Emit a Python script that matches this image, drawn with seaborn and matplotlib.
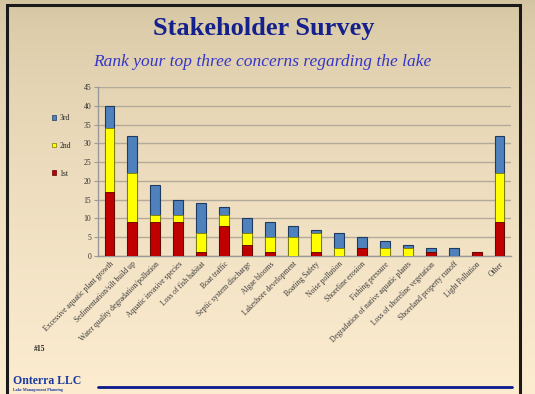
import numpy as np
import pandas as pd
import matplotlib
matplotlib.use("Agg")
import matplotlib.pyplot as plt
import seaborn as sns
from matplotlib.patches import Patch, Rectangle

categories = ["Excessive aquatic plant growth", "Sedimentation/silt build up",
              "Water quality degradation/pollution", "Aquatic invasive species",
              "Loss of fish habitat", "Boat traffic", "Septic system discharge",
              "Algae blooms", "Lakeshore development", "Boating Safety",
              "Noise pollution", "Shoreline erosion", "Fishing pressure",
              "Degradation of native aquatic plants", "Loss of shoreline vegetation",
              "Shoreland property runoff", "Light Pollution", "Other"]
first = [17, 9, 9, 9, 1, 8, 3, 1, 0, 1, 0, 2, 0, 0, 1, 0, 1, 9]
second = [17, 13, 2, 2, 5, 3, 3, 4, 5, 5, 2, 0, 2, 2, 0, 0, 0, 13]
third = [6, 10, 8, 4, 8, 2, 4, 4, 3, 1, 4, 3, 2, 1, 1, 2, 0, 10]
yticks = [0, 5, 10, 15, 20, 25, 30, 35, 40, 45]

df = pd.DataFrame({"cat": categories, "first": first, "second": second, "third": third})
df["c1"] = df["first"]
df["c2"] = df["first"] + df["second"]
df["c3"] = df["c2"] + df["third"]

sns.set_theme(style="white")
plt.rcParams["font.family"] = ["Liberation Serif", "DejaVu Serif"]

fig = plt.figure(figsize=(5.35, 3.94), dpi=100)

# background gradient
bg = fig.add_axes([0, 0, 1, 1], zorder=-10)
grad = (np.linspace(0, 1, 256) ** 0.6)[:, None]
top = np.array([0.83, 0.77, 0.63])
bot = np.array([0.99, 0.925, 0.815])
img = top[None, None, :] * (1 - grad[:, :, None]) + bot[None, None, :] * grad[:, :, None]
bg.imshow(img, aspect="auto", extent=[0, 1, 0, 1], origin="upper")
bg.set_xlim(0, 1); bg.set_ylim(0, 1)
bg.axis("off")
bg.add_patch(Rectangle((7 / 535, -0.01), (520 - 7) / 535, 1 - 5 / 394 + 0.01,
                       fill=False, edgecolor="#1a1a1a", linewidth=2.2))
bg.plot([98 / 535, 512 / 535], [1 - 387 / 394] * 2, color="#0a1a8c", linewidth=2)

ax = fig.add_axes([98 / 535, 1 - 256 / 394, (511 - 98) / 535, (256 - 87) / 394])
ax.set_facecolor("none")

blue = "#4f81bd"; yellow = "#ffff00"; red = "#c00000"
w = 0.43
sns.barplot(data=df, x="cat", y="c3", color=blue, saturation=1, width=w,
            edgecolor="#1f3a60", linewidth=0.8, ax=ax, zorder=3)
sns.barplot(data=df, x="cat", y="c2", color=yellow, saturation=1, width=w,
            edgecolor="#7a7a00", linewidth=0.6, ax=ax, zorder=4)
sns.barplot(data=df, x="cat", y="c1", color=red, saturation=1, width=w,
            edgecolor="#5a0000", linewidth=0.6, ax=ax, zorder=5)

ax.set_ylim(0, 45)
ax.set_xlim(-0.5, len(categories) - 0.5)
ax.set_yticks(yticks)
ax.set_yticklabels([str(v) for v in yticks], fontsize=5.5, color="#333333")
ax.yaxis.grid(True, color="#b3aa9a", linewidth=1)
ax.set_axisbelow(True)
ax.set_xlabel(""); ax.set_ylabel("")
ax.set_xticks(range(len(categories)))
ax.set_xticklabels(categories, rotation=45, ha="right", rotation_mode="anchor",
                   fontsize=5.5, color="#3a3a3a")
ax.set_xticks(np.arange(-0.5, len(categories), 1), minor=True)
ax.tick_params(axis="x", which="major", length=0, pad=3)
ax.tick_params(axis="x", which="minor", length=3, color="#999999", width=0.8)
ax.tick_params(axis="y", length=3, color="#999999", width=0.8, pad=2, left=True)
for s in ["top", "right"]:
    ax.spines[s].set_visible(False)
for s in ["left", "bottom"]:
    ax.spines[s].set_color("#999999")
    ax.spines[s].set_linewidth(1)

handles = [Patch(facecolor=blue, edgecolor="#1f3a60", linewidth=0.5, label="3rd"),
           Patch(facecolor=yellow, edgecolor="#7a7a00", linewidth=0.5, label="2nd"),
           Patch(facecolor=red, edgecolor="#5a0000", linewidth=0.5, label="1st")]
fig.legend(handles=handles, loc="upper left", bbox_to_anchor=(48 / 535, 1 - 110 / 394),
           frameon=False, fontsize=5.5, handlelength=0.6, handleheight=0.6,
           labelspacing=2.6, handletextpad=0.4, borderpad=0)

fig.text(264 / 535, 1 - 28 / 394, "Stakeholder Survey", ha="center", va="center",
         fontsize=19, fontweight="bold", color="#14208c")
fig.text(262 / 535, 1 - 62 / 394, "Rank your top three concerns regarding the lake",
         ha="center", va="center", fontsize=12.5, style="italic", color="#3535c8")
fig.text(34 / 535, 1 - 349 / 394, "#15", ha="left", va="center", fontsize=5.5,
         fontweight="bold", color="#222222")
fig.text(13 / 535, 1 - 381 / 394, "Onterra LLC", ha="left", va="center", fontsize=8.5,
         fontweight="bold", color="#1a3aa0")
fig.text(13 / 535, 1 - 390 / 394, "Lake Management Planning", ha="left", va="center",
         fontsize=3, fontweight="bold", color="#1a3aa0")

fig.savefig("out.png", dpi=100)
